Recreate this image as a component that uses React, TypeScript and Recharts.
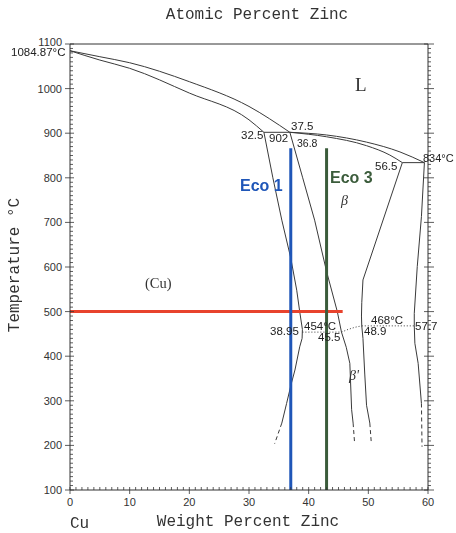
import React from "react";
import { ComposedChart, Line, XAxis, YAxis } from "recharts";

type Pt = { x: number; t: number };

// wt% Zn vs temperature (°C)
const liquidusAlpha: Pt[] = [
  { x: 0, t: 1084.87 }, { x: 5, t: 1071.5 }, { x: 10, t: 1058 }, { x: 20, t: 1015.5 },
  { x: 30, t: 960 }, { x: 36.85, t: 902 },
];
const solidusAlpha: Pt[] = [
  { x: 0, t: 1084.87 }, { x: 5, t: 1064 }, { x: 10, t: 1045.5 }, { x: 20, t: 990 },
  { x: 30, t: 930 }, { x: 32.5, t: 902 },
];
const peritectic902: Pt[] = [{ x: 32.5, t: 902 }, { x: 36.85, t: 902 }];
const liquidusBeta: Pt[] = [
  { x: 36.85, t: 902 }, { x: 43, t: 896 }, { x: 49.7, t: 880 }, { x: 55.3, t: 858 }, { x: 59.4, t: 834 },
];
const solidusBeta: Pt[] = [
  { x: 36.85, t: 902 }, { x: 43, t: 892 }, { x: 49.7, t: 872 }, { x: 53.6, t: 851 }, { x: 55.7, t: 834 },
];
const peritectic834: Pt[] = [{ x: 55.7, t: 834 }, { x: 59.4, t: 834 }];
const alphaSolvus: Pt[] = [
  { x: 32.5, t: 902 }, { x: 34, t: 800 }, { x: 35.5, t: 705 }, { x: 37, t: 620 }, { x: 38, t: 548 },
  { x: 38.5, t: 500 }, { x: 38.95, t: 460 }, { x: 38.9, t: 440 }, { x: 38.5, t: 421 }, { x: 37.7, t: 369 },
  { x: 37.1, t: 339 }, { x: 36.3, t: 294 }, { x: 35.5, t: 250 },
];
const alphaSolvusLow: Pt[] = [{ x: 35.5, t: 250 }, { x: 34.3, t: 204 }];
const betaLeft: Pt[] = [
  { x: 36.85, t: 902 }, { x: 39, t: 800 }, { x: 41, t: 705 }, { x: 43, t: 590 }, { x: 44.8, t: 500 }, { x: 45.5, t: 454 },
];
const betaPrimeLeft: Pt[] = [
  { x: 45.5, t: 454 }, { x: 46.3, t: 420 }, { x: 46.9, t: 384 }, { x: 47.2, t: 280 }, { x: 47.45, t: 250 },
];
const betaPrimeLeftLow: Pt[] = [{ x: 47.45, t: 250 }, { x: 47.7, t: 205 }];
const betaRight: Pt[] = [
  { x: 55.7, t: 834 }, { x: 49.1, t: 571 }, { x: 48.9, t: 520 }, { x: 48.85, t: 490 }, { x: 48.9, t: 468 },
  { x: 49.1, t: 440 }, { x: 49.4, t: 360 }, { x: 49.7, t: 290 }, { x: 50.25, t: 250 },
];
const betaRightLow: Pt[] = [{ x: 50.25, t: 250 }, { x: 50.5, t: 205 }];
const gammaLeft: Pt[] = [
  { x: 59.4, t: 834 }, { x: 58.9, t: 713 }, { x: 58.2, t: 601 }, { x: 57.7, t: 496 }, { x: 57.7, t: 468 },
  { x: 57.8, t: 429 }, { x: 58.35, t: 384 }, { x: 58.9, t: 294 },
];
const gammaLeftLow: Pt[] = [{ x: 58.9, t: 294 }, { x: 59, t: 197 }];
const order454: Pt[] = [{ x: 38.95, t: 454 }, { x: 45.5, t: 454 }];
const orderCurve: Pt[] = [{ x: 45.5, t: 454 }, { x: 46.6, t: 460 }, { x: 47.8, t: 465 }, { x: 48.9, t: 468 }];
const order468: Pt[] = [{ x: 48.9, t: 468 }, { x: 57.7, t: 468 }];

// alloys and the 500 °C line
const eco1: Pt[] = [{ x: 37, t: 100 }, { x: 37, t: 866 }];
const eco3: Pt[] = [{ x: 43, t: 100 }, { x: 43, t: 866 }];
const at500: Pt[] = [{ x: 0, t: 500 }, { x: 45.7, t: 500 }];

const wtTicks = Array.from({ length: 61 }, (_, i) => i);
const atTicks = Array.from({ length: 60 }, (_, i) => i);
const tempTicks = Array.from({ length: 101 }, (_, i) => 100 + i * 10);

// atomic % -> weight % (Cu 63.546, Zn 65.38)
const atToWt = (a: number) => (100 * a * 65.38) / (a * 65.38 + (100 - a) * 63.546);
const atTicksWt = atTicks.map(atToWt);

const INK = "#333";
const SANS = "'Liberation Sans', Arial, sans-serif";
const MONO = "'Liberation Mono', monospace";
const SERIF = "'Liberation Serif', serif";

const phase = { stroke: "#3a3a3a", width: 1 };
const series = [
  { d: liquidusAlpha, type: "monotone" },
  { d: solidusAlpha, type: "monotone" },
  { d: peritectic902 },
  { d: liquidusBeta, type: "monotone" },
  { d: solidusBeta, type: "monotone" },
  { d: peritectic834 },
  { d: alphaSolvus },
  { d: alphaSolvusLow, dash: "4 3" },
  { d: betaLeft },
  { d: betaPrimeLeft },
  { d: betaPrimeLeftLow, dash: "4 3" },
  { d: betaRight },
  { d: betaRightLow, dash: "4 3" },
  { d: gammaLeft },
  { d: gammaLeftLow, dash: "4 3" },
  { d: order454, dash: "1 2" },
  { d: orderCurve, dash: "1 2" },
  { d: order468, dash: "1 2" },
];

const LeftTick = (p: any) => {
  const v = p.payload.value;
  const major = v % 100 === 0;
  return (
    <g>
      <line x1={major ? p.x - 5 : p.x} x2={p.x + (major ? 4 : 3)} y1={p.y} y2={p.y} stroke={INK} strokeWidth={0.8} />
      {major && (
        <text x={p.x - 8} y={p.y + (v === 1100 ? 2 : 4)} textAnchor="end" fontSize={11} fill={INK} stroke="none" fontFamily={SANS}>
          {v}
        </text>
      )}
    </g>
  );
};

const RightTick = (p: any) => {
  const major = p.payload.value % 100 === 0;
  return <line x1={p.x - (major ? 4 : 0)} x2={p.x + (major ? 6 : 3)} y1={p.y} y2={p.y} stroke={INK} strokeWidth={0.8} />;
};

const BottomTick = (p: any) => {
  const major = p.index % 10 === 0;
  return (
    <g>
      <line x1={p.x} x2={p.x} y1={p.y - 3} y2={p.y + (major ? 4 : 0)} stroke={INK} strokeWidth={0.8} />
      {major && (
        <text x={p.x} y={p.y + 16} textAnchor="middle" fontSize={11} fill={INK} stroke="none" fontFamily={SANS}>
          {wtTicks[p.index]}
        </text>
      )}
    </g>
  );
};

const TopTick = (p: any) => {
  const major = p.index % 10 === 0;
  return (
    <g>
      <line x1={p.x} x2={p.x} y1={p.y - (major ? 4 : 2)} y2={p.y + (major ? 6 : 2)} stroke={INK} strokeWidth={0.8} />
      {major && (
        <text x={p.x} y={p.y - 7} textAnchor="middle" fontSize={11} fill={INK} stroke="none" fontFamily={SANS}>
          {atTicks[p.index]}
        </text>
      )}
    </g>
  );
};

const notes = [
  { s: "1084.87°C", x: 11, y: 56, f: 11.5 },
  { s: "32.5", x: 241, y: 139 },
  { s: "902", x: 269, y: 142 },
  { s: "37.5", x: 291, y: 129.5 },
  { s: "36.8", x: 297, y: 146.5, f: 10.5 },
  { s: "56.5", x: 375, y: 170 },
  { s: "834°C", x: 423, y: 161.5, f: 11 },
  { s: "38.95", x: 270, y: 335 },
  { s: "454°C", x: 304, y: 329.5 },
  { s: "45.5", x: 318, y: 340.5 },
  { s: "468°C", x: 371, y: 323.5 },
  { s: "48.9", x: 364, y: 335 },
  { s: "57.7", x: 415, y: 329.5 },
];

export default function App() {
  return (
    <div style={{ position: "relative", width: 448, height: 525 }}>
      <ComposedChart width={448} height={525} margin={{ top: 0, right: 0, bottom: 0, left: 0 }}>
        <XAxis
          xAxisId="wt" dataKey="x" type="number" domain={[0, 60]} ticks={wtTicks} interval={0}
          orientation="bottom" height={43} tickSize={0} tickMargin={0} tick={<BottomTick />}
          stroke={INK} allowDataOverflow
        />
        <XAxis
          xAxisId="at" type="number" domain={[0, 60]} ticks={atTicksWt} interval={0}
          orientation="top" height={36} tickSize={0} tickMargin={0} tick={<TopTick />}
          stroke={INK} allowDataOverflow
        />
        <YAxis
          yAxisId="T" type="number" domain={[100, 1100]} ticks={tempTicks} interval={0}
          width={62} tickSize={0} tickMargin={0} tick={<LeftTick />} stroke={INK} allowDataOverflow
        />
        <YAxis
          yAxisId="Tr" orientation="right" type="number" domain={[100, 1100]} ticks={tempTicks} interval={0}
          width={28} tickSize={0} tickMargin={0} tick={<RightTick />} stroke={INK} allowDataOverflow
        />
        {series.map((s, i) => (
          <Line
            key={i} xAxisId="wt" yAxisId="T" data={s.d} dataKey="t" type={(s.type as any) || "linear"}
            stroke={phase.stroke} strokeWidth={phase.width} strokeDasharray={s.dash}
            dot={false} activeDot={false} isAnimationActive={false}
          />
        ))}
        <Line xAxisId="wt" yAxisId="T" data={at500} dataKey="t" stroke="#e8432d" strokeWidth={3}
          dot={false} activeDot={false} isAnimationActive={false} />
        <Line xAxisId="wt" yAxisId="T" data={eco1} dataKey="t" stroke="#1f56b8" strokeWidth={3}
          dot={false} activeDot={false} isAnimationActive={false} />
        <Line xAxisId="wt" yAxisId="T" data={eco3} dataKey="t" stroke="#3b5c3b" strokeWidth={3}
          dot={false} activeDot={false} isAnimationActive={false} />
      </ComposedChart>
      <svg width={456} height={533} style={{ position: "fixed", left: 0, top: 0, pointerEvents: "none", overflow: "visible" }}>
        <text x={257} y={19} textAnchor="middle" fontSize={16} fill={INK} fontFamily={MONO}>Atomic Percent Zinc</text>
        <text x={248} y={526} textAnchor="middle" fontSize={16} fill={INK} fontFamily={MONO}>Weight Percent Zinc</text>
        <text x={70} y={528} fontSize={16} fill={INK} fontFamily={MONO}>Cu</text>
        <text x={19} y={265} textAnchor="middle" fontSize={16} fill={INK} fontFamily={MONO} transform="rotate(-90 19 265)">
          Temperature °C
        </text>
        <text x={355} y={91} fontSize={19} fill={INK} fontFamily={SERIF}>L</text>
        <text x={145} y={288} fontSize={14.5} fill={INK} fontFamily={SERIF}>(Cu)</text>
        <text x={240} y={191} fontSize={16} fontWeight="bold" fill="#1f56b8" fontFamily={SANS}>Eco 1</text>
        <text x={330} y={183} fontSize={16} fontWeight="bold" fill="#3b5c3b" fontFamily={SANS}>Eco 3</text>
        <text x={341} y={205} fontSize={14} fontStyle="italic" fill={INK} fontFamily={SERIF}>β</text>
        <text x={349} y={380} fontSize={14} fontStyle="italic" fill={INK} fontFamily={SERIF}>β'</text>
        {notes.map((n) => (
          <text key={n.s} x={n.x} y={n.y} fontSize={n.f || 11.5} fill="#222" fontFamily={SANS}>{n.s}</text>
        ))}
      </svg>
    </div>
  );
}
